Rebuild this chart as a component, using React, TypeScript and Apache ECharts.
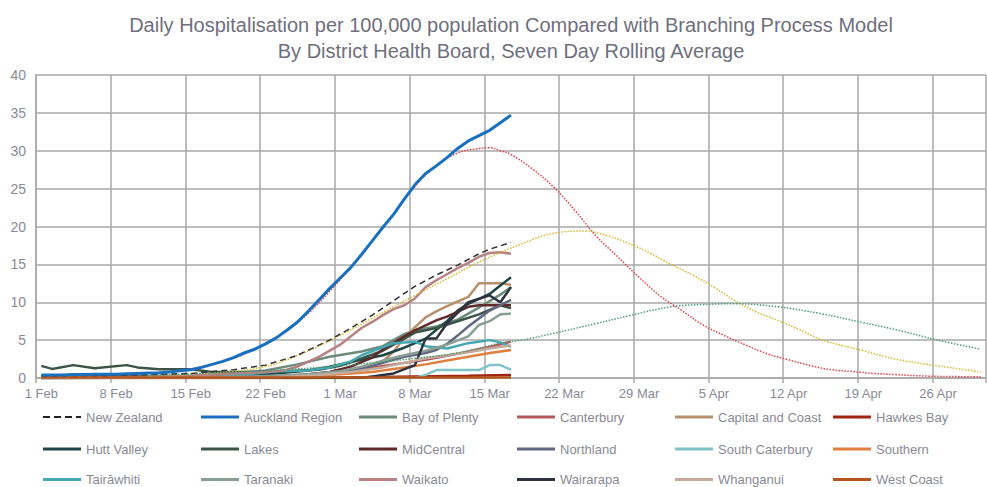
import React, { useEffect, useRef } from "react";
import * as echarts from "echarts";

// ---- categories (one slot per day, 1 Feb .. 30 Apr) ----
const MONTHS: [string, number][] = [["Feb", 28], ["Mar", 31], ["Apr", 30]];
const dayLabels: string[] = [];
MONTHS.forEach(([m, n]) => {
  for (let d = 1; d <= n; d++) dayLabels.push(`${d} ${m}`);
});

// ---- series values: [day index from 1 Feb, value per 100,000] ----
const newZealand = [[0,0.3],[7,0.35],[14,0.6],[18,1.1],[21,1.7],[24,3.0],[27,5.0],[29,6.6],[31,8.3],[33,10.2],[35,12.1],[37,13.6],[39,14.9],[41,16.4],[42,17.0],[44,17.9]];
const aucklandRegion = [0.4,0.4,0.4,0.45,0.45,0.5,0.5,0.5,0.55,0.6,0.65,0.7,0.8,0.95,1.1,1.4,1.8,2.2,2.7,3.3,3.8,4.5,5.3,6.3,7.4,8.8,10.3,11.8,13.2,14.6,16.3,18.1,19.9,21.6,23.6,25.5,27.0,28.0,29.1,30.3,31.3,32.0,32.7,33.7,34.7];
const bayOfPlenty = [[0,0.2],[14,0.3],[18,0.6],[21,1.0],[24,1.8],[27,2.8],[30,3.5],[32,4.2],[34,5.8],[35,6.3],[37,6.8],[39,7.7],[41,9.3],[43,11.0],[44,12.0]];
const canterbury = [[0,0],[18,0.1],[22,0.2],[25,0.5],[28,0.9],[30,1.2],[33,1.8],[36,2.4],[39,3.2],[42,4.1],[44,4.8]];
const capitalAndCoast = [[0,0],[20,0.1],[26,0.4],[28,0.7],[30,1.2],[32,2.2],[33,3.5],[34,5.3],[35,6.7],[36,8.0],[37,8.8],[38,9.5],[39,10.1],[40,10.7],[41,12.5],[43,12.5],[44,12.3]];
const hawkesBay = [[0,0],[25,0],[30,0.1],[35,0.2],[40,0.3],[44,0.4]];
const huttValley = [[0,0.2],[14,0.2],[18,0.4],[22,0.6],[25,1.0],[27,1.5],[30,2.4],[32,3.0],[34,4.0],[36,5.2],[38,7.5],[39,8.9],[40,9.8],[42,11.1],[43,12.2],[44,13.3]];
const lakes = [[0,1.6],[1,1.2],[3,1.7],[5,1.3],[8,1.7],[9,1.4],[11,1.15],[14,1.15],[16,0.8],[20,0.8],[23,0.9],[26,1.1],[28,1.6],[30,2.6],[32,3.6],[34,5.2],[35,6.0],[37,6.6],[39,7.5],[41,8.4],[42,9.0],[43,9.6],[44,9.2]];
const midCentral = [[0,0],[20,0.1],[24,0.3],[27,0.8],[29,1.5],[31,2.7],[32,3.8],[34,5.5],[35,6.3],[37,7.6],[38,8.1],[40,9.4],[41,9.6],[44,9.6]];
const northland = [[0,0],[20,0.1],[25,0.3],[28,0.6],[30,1.2],[32,2.0],[34,2.8],[36,3.3],[37,3.7],[38,4.5],[39,5.6],[40,6.8],[42,8.9],[44,10.3]];
const southCanterbury = [[0,0],[35,0],[36,0.4],[37,1.05],[41,1.05],[42,1.7],[43,1.7],[44,1.1]];
const southern = [[0,0.1],[20,0.15],[24,0.3],[28,0.5],[31,0.8],[34,1.4],[36,1.8],[38,2.3],[40,2.8],[42,3.3],[44,3.7]];
const tairawhiti = [[0,0],[17,0.2],[20,0.6],[22,0.9],[25,1.0],[27,1.4],[29,2.2],[30,3.0],[33,4.6],[35,4.8],[36,4.2],[38,3.9],[40,4.6],[42,5.0],[43,4.7],[44,4.1]];
const taranaki = [[0,0],[20,0.2],[25,0.5],[28,0.9],[30,1.5],[32,2.3],[34,3.0],[36,3.6],[38,4.4],[40,5.5],[41,7.0],[42,7.5],[43,8.4],[44,8.5]];
const waikato = [[0,0.1],[10,0.15],[14,0.3],[18,0.6],[21,0.8],[22,0.9],[23,1.1],[24,1.5],[26,2.8],[28,4.4],[29,5.5],[30,6.6],[31,7.4],[32,8.3],[33,9.1],[34,9.6],[35,10.5],[36,12.0],[37,12.9],[38,13.7],[39,14.5],[40,15.2],[41,16.0],[42,16.5],[43,16.6],[44,16.4]];
const wairarapa = [[0,0],[30,0],[33,0.6],[35,1.7],[36,5.2],[37,5.2],[38,7.2],[40,10.0],[42,10.9],[43,10.0],[44,12.0]];
const whanganui = [[0,0],[22,0.1],[26,0.4],[29,0.8],[32,1.4],[34,2.0],[36,2.6],[38,3.0],[40,3.4],[42,3.9],[44,4.3]];
const westCoast = [[0,0.05],[44,0.05]];

// ---- branching process model curves ----
const aucklandModel = [[12,0.8],[16,1.8],[20,3.8],[24,7.3],[28,13.0],[32,19.8],[35,25.3],[37,28.0],[39,29.7],[41,30.3],[42,30.4],[43,30.0],[44,29.5],[46,27.6],[48,25.2],[50,22.1],[52,18.7],[54,16.0],[56,13.3],[58,10.8],[60,8.9],[62,7.0],[64,5.6],[66,4.35],[68,3.2],[70,2.4],[72,1.65],[74,1.1],[76,0.85],[78,0.6],[80,0.45],[83,0.25],[86,0.18],[88,0.15]];
const nzModel = [[10,0.3],[14,0.5],[18,0.9],[21,1.5],[23,2.4],[27,4.9],[31,7.9],[35,10.9],[38,13.1],[41,15.3],[45,17.7],[48,19.1],[51,19.4],[53,18.8],[55,17.8],[57,16.5],[59,15.0],[61,13.6],[63,12.0],[65,10.2],[67,8.7],[69,7.6],[71,6.4],[73,5.1],[75,4.3],[77,3.6],[80,2.5],[83,1.8],[86,1.2],[88,0.8]];
const otherModel = [[10,0.3],[15,0.6],[20,0.9],[24,1.2],[27,1.5],[31,2.0],[35,2.6],[39,3.3],[43,4.6],[45,5.0],[48,5.9],[52,7.2],[55,8.2],[59,9.4],[62,9.7],[65,9.8],[69,9.4],[73,8.5],[77,7.3],[80,6.4],[84,5.0],[88,3.8]];

const yTicks = [0, 5, 10, 15, 20, 25, 30, 35, 40];

const legendNames = [
  "New Zealand", "Auckland Region", "Bay of Plenty", "Canterbury", "Capital and Coast", "Hawkes Bay",
  "Hutt Valley", "Lakes", "MidCentral", "Northland", "South Caterbury", "Southern",
  "Tairāwhiti", "Taranaki", "Waikato", "Wairarapa", "Whanganui", "West Coast",
];

const dhbSeries: [string, number[][], string][] = [
  ["Bay of Plenty", bayOfPlenty, "#6c8b7b"],
  ["Canterbury", canterbury, "#b5585e"],
  ["Capital and Coast", capitalAndCoast, "#b8906c"],
  ["Hawkes Bay", hawkesBay, "#a02410"],
  ["Hutt Valley", huttValley, "#1e4646"],
  ["Lakes", lakes, "#3c5448"],
  ["MidCentral", midCentral, "#5e2a2a"],
  ["Northland", northland, "#626780"],
  ["South Caterbury", southCanterbury, "#80c4c8"],
  ["Southern", southern, "#e08040"],
  ["Tairāwhiti", tairawhiti, "#45a7b2"],
  ["Taranaki", taranaki, "#8a9e94"],
  ["Waikato", waikato, "#b88282"],
  ["Wairarapa", wairarapa, "#2e3240"],
  ["Whanganui", whanganui, "#c4ab9c"],
  ["West Coast", westCoast, "#b5541c"],
];

const FONT = "'Liberation Sans', Arial, sans-serif";
const TEXT = "#8a8a96";
const GRID = "#a8a8a8";
const SOLID_ICON = "path://M0,0 H38 V3 H0 Z";
const DASH_ICON = "path://M0,0 H7 V2 H0 Z M11,0 H18 V2 H11 Z M22,0 H29 V2 H22 Z M33,0 H38 V2 H33 Z";

export default function App() {
  const ref = useRef<HTMLDivElement>(null);
  useEffect(() => {
    if (!ref.current) return;
    const chart = echarts.init(ref.current, undefined, { renderer: "svg" });

    const series: any[] = [];
    dhbSeries.forEach(([name, data, color]) => {
      series.push({
        name, type: "line", data, symbol: "none", z: 2,
        lineStyle: { color, width: 2.5 }, itemStyle: { color },
      });
    });
    series.push({
      name: "Auckland Model", type: "line", data: aucklandModel, symbol: "none", smooth: 0.4, z: 3,
      lineStyle: { color: "#e0404a", width: 1.5, type: [1.5, 1.5] },
    });
    series.push({
      name: "NZ Model", type: "line", data: nzModel, symbol: "none", smooth: 0.4, z: 3,
      lineStyle: { color: "#d8b830", width: 1.5, type: [1.5, 1.5] },
    });
    series.push({
      name: "Other Model", type: "line", data: otherModel, symbol: "none", smooth: 0.4, z: 3,
      lineStyle: { color: "#4e9e78", width: 1.5, type: [1.5, 1.5] },
    });
    series.push({
      name: "New Zealand", type: "line", data: newZealand, symbol: "none", z: 4,
      lineStyle: { color: "#333333", width: 1.5, type: [6, 4] }, itemStyle: { color: "#222222" },
    });
    series.push({
      name: "Auckland Region", type: "line", data: aucklandRegion.map((v, i) => [i, v]), symbol: "none", z: 5,
      lineStyle: { color: "#1a70c0", width: 3 }, itemStyle: { color: "#1a70c0" },
    });

    const rowCenters = [417, 449, 479.5];
    const legends = legendNames.map((name, i) => {
      const dashed = name === "New Zealand";
      const h = dashed ? 2 : 3;
      return {
        data: [{ name, icon: dashed ? DASH_ICON : SOLID_ICON }],
        left: 43 + 158 * (i % 6),
        top: rowCenters[Math.floor(i / 6)] - 8,
        height: 16,
        padding: 0,
        itemWidth: 38,
        itemHeight: h,
        selectedMode: false,
        textStyle: { color: TEXT, fontSize: 13, fontFamily: FONT, lineHeight: 16 },
      };
    });

    chart.setOption({
      animation: false,
      textStyle: { fontFamily: FONT },
      title: {
        text: "Daily Hospitalisation per 100,000 population Compared with Branching Process Model\nBy District Health Board, Seven Day Rolling Average",
        left: 506,
        top: 7,
        textAlign: "center",
        textStyle: { color: "#6f6f7d", fontSize: 20, fontWeight: "normal", lineHeight: 26, fontFamily: FONT },
      },
      legend: legends,
      grid: { left: 36, right: 1, top: 75, bottom: 109, containLabel: false },
      xAxis: {
        type: "category",
        data: dayLabels,
        boundaryGap: true,
        axisLine: { show: true, lineStyle: { color: GRID, width: 1.5 } },
        axisTick: { show: true, interval: 6, length: 5, lineStyle: { color: GRID, width: 1.5 } },
        axisLabel: { interval: 6, color: TEXT, fontSize: 13, margin: 9, fontFamily: FONT },
        splitLine: { show: true, interval: 6, lineStyle: { color: GRID, width: 1.5 } },
      },
      yAxis: {
        type: "value",
        min: yTicks[0],
        max: yTicks[yTicks.length - 1],
        interval: 5,
        axisLine: { show: true, lineStyle: { color: GRID, width: 1.5 } },
        axisTick: { show: false },
        axisLabel: { color: TEXT, fontSize: 14, margin: 10, fontFamily: FONT },
        splitLine: { show: true, lineStyle: { color: GRID, width: 1.5 } },
      },
      series,
    });
    return () => chart.dispose();
  }, []);
  return (
    <div
      ref={ref}
      style={{ position: "fixed", left: 0, top: 0, width: 987, height: 487, background: "#fff" }}
    />
  );
}
